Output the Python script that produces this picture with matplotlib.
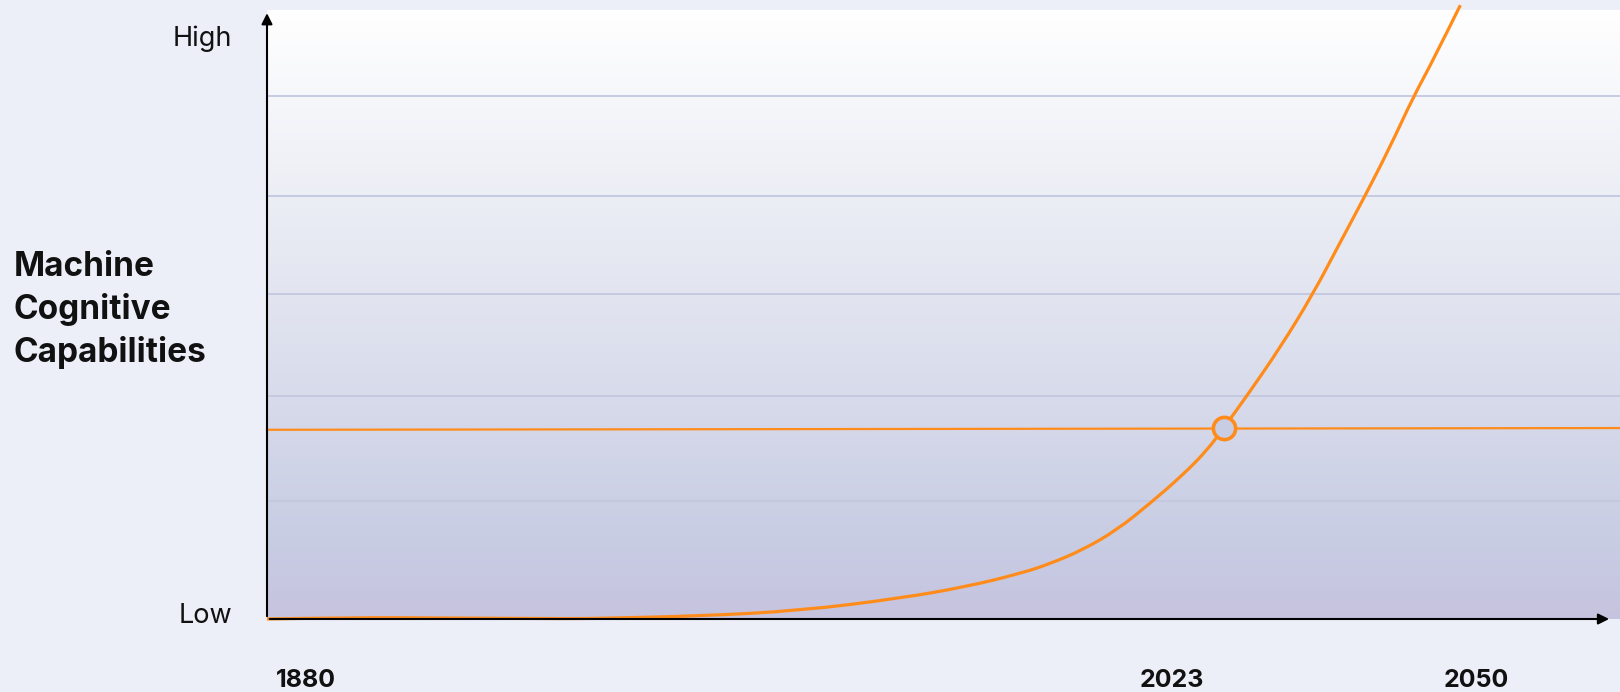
import numpy as np
import matplotlib
matplotlib.use("Agg")
import matplotlib.pyplot as plt
from matplotlib.colors import LinearSegmentedColormap
from matplotlib.path import Path
from matplotlib.patches import PathPatch

plt.rcParams['font.family'] = ['Inter', 'DejaVu Sans']

# timeline position (0-100) and capability level (Low=0, High=100)
curve_x = [0, 6.1, 13.5, 22.5, 24.6, 32.0, 39.4, 46.8, 51.7, 55.7, 57.9, 60.3,
           62.8, 65.3, 67.7, 69.5, 70.7, 72.4, 74.9, 77.3, 79.3, 81.1, 83.0,
           84.7, 86.2, 88.2]
curve_y = [0, 0.26, 0.17, 0.05, 0.12, 0.52, 1.44, 3.6, 5.6, 7.9, 9.6, 12.0,
           15.4, 20.1, 25.0, 29.3, 33.1, 38.6, 47.1, 56.3, 65.2, 73.1, 81.8,
           90.4, 96.9, 106.4]

today_x = 70.7
today_y = 33.1
level_line_x = [0, 100]
level_line_y = [32.8, 33.1]

grid_levels = [20.4, 38.6, 56.3, 73.3, 90.6]
year_pos = [2.9, 66.9, 89.4]
year_labels = ['1880', '2023', '2050']
level_ticks = [0, 100]
level_labels = ['Low', 'High']

bg = '#eceff8'
orange = '#ff8c1a'

fig = plt.figure(figsize=(16.2, 6.92), dpi=100, facecolor=bg)
ax = fig.add_axes([267 / 1620, 73 / 692, 1353 / 1620, 619 / 692])
ax.set_facecolor(bg)
ax.set_xlim(0, 100)
ax.set_ylim(0, 107.3)
for s in ax.spines.values():
    s.set_visible(False)
ax.set_xticks([])
ax.set_yticks([])

# gradient background of plot area
cmap = LinearSegmentedColormap.from_list(
    'bgfade', [(0, '#c6c3df'), (0.12, '#c8cce3'), (0.5, '#e0e3ef'), (1, '#ffffff')])
grad = np.linspace(0, 1, 256).reshape(-1, 1)
ax.imshow(grad, extent=[0, 100, 0, 105.5], origin='lower', aspect='auto',
          cmap=cmap, zorder=0)

for g in grid_levels:
    ax.axhline(g, color='#c3c8e0', lw=1.3, zorder=1)

ax.plot(level_line_x, level_line_y, color=orange, lw=1.6, zorder=3, clip_on=False)

# smooth the read points with a quadratic b-spline path
pts = np.column_stack([curve_x, curve_y])
verts = [pts[0]]
codes = [Path.MOVETO]
for i in range(1, len(pts) - 1):
    end = pts[i + 1] if i == len(pts) - 2 else (pts[i] + pts[i + 1]) / 2
    verts += [pts[i], end]
    codes += [Path.CURVE3, Path.CURVE3]
ax.add_patch(PathPatch(Path(verts, codes), fill=False, ec=orange, lw=2.3,
                       zorder=4, clip_on=False, capstyle='butt'))
ax.plot(today_x, today_y, 'o', ms=16, mfc='#c8cde4', mec=orange, mew=2.6, zorder=5)

# axes arrows
arrow = dict(arrowstyle='-|>', lw=1.5, color='black', mutation_scale=16)
ax.annotate('', xy=(0, 105.5), xytext=(0, 0), arrowprops=arrow,
            annotation_clip=False, zorder=6)
ax.annotate('', xy=(99.4, 0), xytext=(0, 0), arrowprops=arrow,
            annotation_clip=False, zorder=6)

for v, lab in zip(level_ticks, level_labels):
    ax.text(-2.6, v + 0.5, lab, ha='right', va='center', fontsize=19.5, color='#111111')

for p, lab in zip(year_pos, year_labels):
    ax.text(p, -10.6, lab, ha='center', va='center', fontsize=18,
            fontweight='bold', color='#111111')

fig.text(14 / 1620, 1 - 310 / 692, 'Machine\nCognitive\nCapabilities', ha='left',
         va='center', fontsize=24, fontweight='bold', linespacing=1.4, color='#111111')

fig.savefig('out.png', dpi=100, facecolor=bg)
